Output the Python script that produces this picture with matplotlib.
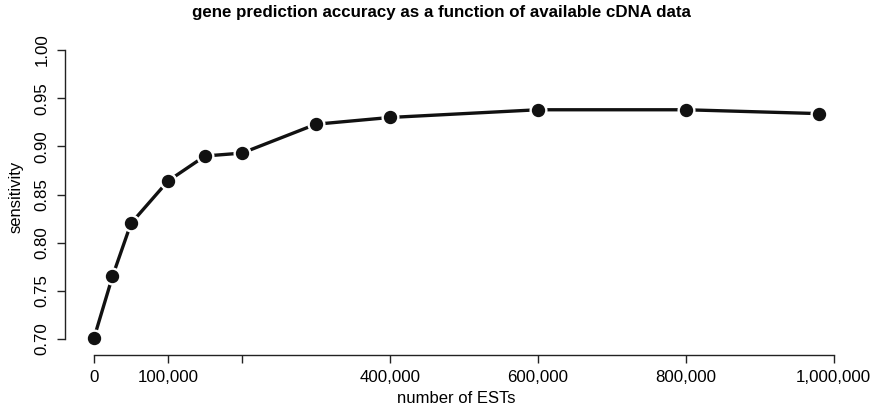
import matplotlib
matplotlib.use("Agg")
import matplotlib.pyplot as plt

# valores
n_ests = [0, 25000, 50000, 100000, 150000, 200000, 300000, 400000, 600000, 800000, 980000]
sensibilidade = [0.701, 0.765, 0.820, 0.864, 0.890, 0.893, 0.923, 0.930, 0.938, 0.938, 0.934]

x_ticks = [0, 100000, 200000, 400000, 600000, 800000, 1000000]
x_labels = ['0', '100,000', '', '400,000', '600,000', '800,000', '1,000,000']
y_ticks = [0.70, 0.75, 0.80, 0.85, 0.90, 0.95, 1.00]
y_labels = ['0.70', '0.75', '0.80', '0.85', '0.90', '0.95', '1.00']

plt.rcParams['font.family'] = ['Liberation Sans', 'DejaVu Sans']

W, H = 875, 412
fig = plt.figure(figsize=(W / 100, H / 100), dpi=100)
ax = fig.add_axes([65 / W, (H - 355) / H, (848 - 65) / W, (355 - 38) / H])

ax.plot(n_ests, sensibilidade, color='#111111', linewidth=2.4, zorder=2)
ax.plot(n_ests, sensibilidade, 'o', color='white', markersize=12, zorder=3)
ax.plot(n_ests, sensibilidade, 'o', color='#111111', markersize=8.6, zorder=4)

ax.set_xlim(-39200, 1019200)
ax.set_ylim(0.6834, 1.0125)

for lado in ['top', 'right']:
    ax.spines[lado].set_visible(False)
ax.spines['left'].set_bounds(0.70, 1.00)
ax.spines['bottom'].set_bounds(0, 1000000)
for lado in ['left', 'bottom']:
    ax.spines[lado].set_linewidth(1.0)
    ax.spines[lado].set_color('#222222')

ax.set_xticks(x_ticks)
ax.set_xticklabels(x_labels, fontsize=12.2)
ax.set_yticks(y_ticks)
ax.set_yticklabels(y_labels, fontsize=12.2, rotation=90, va='center')
ax.tick_params(direction='out', length=6, width=1.0, color='#222222', pad=5)

ax.set_xlabel('number of ESTs', fontsize=12, labelpad=4)
ax.set_ylabel('sensitivity', fontsize=12, labelpad=8)

fig.text(0.5 * (193 + 690) / W, 1 - 13 / H,
         'gene prediction accuracy as a function of available cDNA data',
         ha='center', va='center', fontsize=12.2, fontweight='bold')

fig.savefig('out.png', dpi=100)
